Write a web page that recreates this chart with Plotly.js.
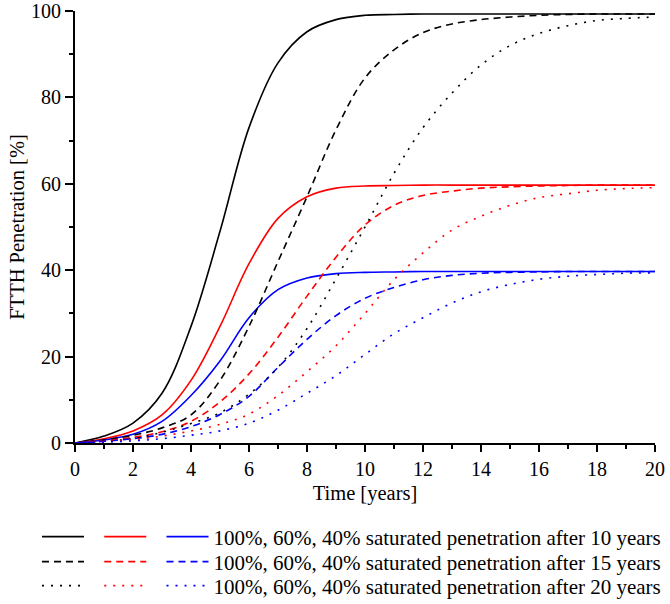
<!DOCTYPE html>
<html>
<head>
<meta charset="utf-8">
<script src="https://cdn.plot.ly/plotly-3.0.1.min.js"></script>
<style>html,body{margin:0;padding:0;background:#fff;}#chart{width:670px;height:604px;}</style>
</head>
<body>
<div id="chart"></div>
<script>
const years = [0,1,2,3,4,5,6,7,8,9,10,11,12,13,14,15,16,17,18,19,20];

const sat100_10 = [0,1.6,4.6,11.5,27,49,73,88,95.2,98,99,99.2,99.3,99.3,99.3,99.3,99.3,99.3,99.3,99.3,99.3];
const sat60_10  = [0,1,2.8,6.5,14.5,27,41.5,52,57,59,59.5,59.6,59.7,59.7,59.7,59.7,59.7,59.7,59.7,59.7,59.7];
const sat40_10  = [0,0.7,2,5,11,19,29,35.5,38.2,39.2,39.5,39.6,39.7,39.7,39.7,39.7,39.7,39.7,39.7,39.7,39.7];

const sat100_15 = [0,0.7,1.8,3.5,6.5,14.5,27,42,57,72.5,84.5,91,95,97,98,98.6,99,99.2,99.3,99.3,99.3];
const sat60_15  = [0,0.5,1.3,2.6,5,9.5,16,24.5,34,43,50.5,55,57.3,58.3,59,59.3,59.5,59.6,59.7,59.7,59.7];
const sat40_15  = [0,0.4,1,2,3.8,6.6,10.8,17.5,24,29.5,33.5,36,37.8,38.8,39.3,39.5,39.6,39.7,39.7,39.7,39.7];

const sat100_20 = [0,0.4,1,2.5,4.5,7,11.3,17.5,26.5,38,50,62.4,73,81,87.5,92,94.8,96.6,97.8,98.3,98.6];
const sat60_20  = [0,0.3,0.8,1.6,2.8,4.3,6.7,11,16.5,22.5,30,37.8,44,49.3,52.5,55,56.8,57.7,58.5,58.9,59.1];
const sat40_20  = [0,0.2,0.5,1,1.8,2.8,4.6,7.6,11.5,15.6,20.5,25.3,29,32.4,35,36.7,37.9,38.6,39,39.3,39.4];

const legendText = [
  '100%, 60%, 40% saturated penetration after 10 years',
  '100%, 60%, 40% saturated penetration after 15 years',
  '100%, 60%, 40% saturated penetration after 20 years'
];

const colors = ['#000000', '#ff0000', '#0000ff'];
const dashes = ['solid', '7px,5px', '2px,7px'];
const groups = [
  [sat100_10, sat60_10, sat40_10],
  [sat100_15, sat60_15, sat40_15],
  [sat100_20, sat60_20, sat40_20]
];
const legendIds = ['legend', 'legend2', 'legend3'];

const traces = [];
groups.forEach((g, gi) => {
  g.forEach((vals, ci) => {
    traces.push({
      x: years, y: vals, type: 'scatter', mode: 'lines',
      line: {color: colors[ci], width: 1.6, dash: dashes[gi], shape: 'spline', smoothing: 1},
      name: ci === 2 ? legendText[gi] : ' ',
      legend: legendIds[gi],
      showlegend: true,
      hoverinfo: 'skip'
    });
  });
});

const fam = '"Liberation Serif", "Times New Roman", serif';
const tickFont = {family: fam, size: 20, color: '#000'};
const titleFont = {family: fam, size: 20.5, color: '#000'};
const plotTop = 11, plotBottom = 443, plotLeft = 75, plotRight = 655;
const py = v => (plotBottom - v) / (plotBottom - plotTop);
const legBase = {
  orientation: 'h', x: (37 - plotLeft) / (plotRight - plotLeft), xanchor: 'left', xref: 'paper', yref: 'paper',
  yanchor: 'middle', itemwidth: 42, font: {family: fam, size: 21, color: '#000'},
  bgcolor: 'rgba(0,0,0,0)', tracegroupgap: 0, itemclick: false, itemdoubleclick: false
};

const layout = {
  width: 670, height: 604,
  margin: {l: 75, r: 15, t: 11, b: 161, autoexpand: false},
  paper_bgcolor: '#fff', plot_bgcolor: '#fff',
  font: tickFont,
  showlegend: true,
  xaxis: {
    range: [0, 20], tick0: 0, dtick: 2, ticks: 'outside', ticklen: 7, tickwidth: 2, tickcolor: '#000',
    showline: true, linecolor: '#000', linewidth: 2, showgrid: false, zeroline: false,
    minor: {dtick: 1, ticks: 'outside', ticklen: 4, tickwidth: 2, tickcolor: '#000', showgrid: false},
    title: {text: 'Time [years]', font: titleFont, standoff: 7},
    tickfont: tickFont
  },
  yaxis: {
    range: [0, 100], tick0: 0, dtick: 20, ticks: 'outside', ticklen: 8, tickwidth: 2, tickcolor: '#000',
    showline: true, linecolor: '#000', linewidth: 2, showgrid: false, zeroline: false,
    minor: {dtick: 10, ticks: 'outside', ticklen: 4, tickwidth: 2, tickcolor: '#000', showgrid: false},
    title: {text: 'FTTH Penetration [%]', font: titleFont, standoff: 1},
    tickfont: tickFont
  },
  legend: Object.assign({}, legBase, {y: py(537)}),
  legend2: Object.assign({}, legBase, {y: py(562)}),
  legend3: Object.assign({}, legBase, {y: py(586)})
};

Plotly.newPlot('chart', traces, layout, {staticPlot: true, displayModeBar: false});
</script>
</body>
</html>
